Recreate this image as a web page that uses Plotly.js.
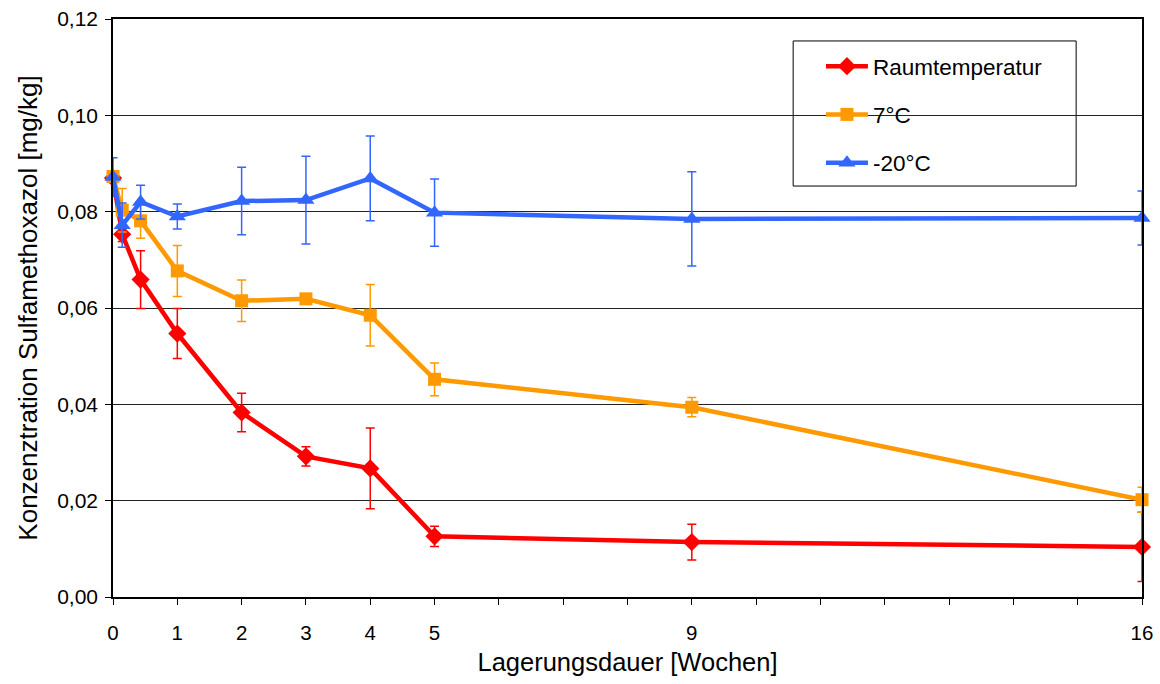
<!DOCTYPE html>
<html>
<head>
<meta charset="utf-8">
<script src="https://cdn.plot.ly/plotly-3.0.1.min.js"></script>
<style>html,body{margin:0;padding:0;background:#fff;}#chart{width:1160px;height:684px;}</style>
</head>
<body>
<div id="chart"></div>
<script>
// Storage time in weeks
const weeks = [0, 0.143, 0.429, 1, 2, 3, 4, 5, 9, 16];

// Raumtemperatur
const roomVals = [0.0870, 0.0753, 0.0659, 0.0547, 0.0383, 0.0292, 0.0267, 0.0126, 0.0114, 0.0104];
const roomErr  = [0.0010, 0.0015, 0.0060, 0.0052, 0.0040, 0.0020, 0.0084, 0.0021, 0.0037, 0.0072];

// 7°C
const fridgeVals = [0.0873, 0.0803, 0.0781, 0.0677, 0.0615, 0.0619, 0.0585, 0.0452, 0.0394, 0.0202];
const fridgeErr  = [0.0005, 0.0045, 0.0036, 0.0053, 0.0043, 0.0005, 0.0064, 0.0034, 0.0020, 0.0026];

// -20°C
const frozenVals = [0.0872, 0.0772, 0.0820, 0.0790, 0.0822, 0.0824, 0.0869, 0.0798, 0.0785, 0.0787];
const frozenErr  = [0.0040, 0.0046, 0.0035, 0.0026, 0.0070, 0.0091, 0.0088, 0.0070, 0.0098, 0.0056];

const seriesNames = ['Raumtemperatur', '7°C', '-20°C'];

const xTickVals = [0,1,2,3,4,5,6,7,8,9,10,11,12,13,14,15,16];
const xTickText = ['0','1','2','3','4','5','','','','9','','','','','','','16'];

const FONT = 'Liberation Sans, Arial, sans-serif';

function mk(name, x, y, err, color, symbol, msize, group) {
  return {
    type: 'scatter', mode: 'lines+markers', name: name, x: x, y: y,
    legendgroup: group,
    line: {color: color, width: 4.5},
    marker: {color: color, symbol: symbol, size: msize},
    error_y: {type: 'data', array: err, visible: true, color: color, thickness: 1.5, width: 4.5},
    cliponaxis: false
  };
}

const data = [
  mk(seriesNames[0], weeks, roomVals, roomErr, '#ff0000', 'diamond', 14, 'a'),
  mk(seriesNames[1], weeks, fridgeVals, fridgeErr, '#ff9900', 'square', 13, 'b'),
  mk(seriesNames[2], weeks, frozenVals, frozenErr, '#3366ff', 'triangle-up', 15, 'c')
];

const layout = {
  width: 1160, height: 684,
  margin: {l: 113, r: 18, t: 19, b: 87},
  paper_bgcolor: '#fff', plot_bgcolor: '#fff',
  separators: ',.',
  font: {family: FONT, color: '#000', size: 20},
  showlegend: true,
  legend: {
    x: 0.688, y: 0.955, xanchor: 'left', yanchor: 'top',
    bgcolor: 'rgba(0,0,0,0)', borderwidth: 0,
    font: {family: FONT, size: 22.5, color: '#000'},
    itemwidth: 42, tracegroupgap: 16, traceorder: 'grouped'
  },
  shapes: [{
    type: 'rect', xref: 'paper', yref: 'paper',
    x0: 0.661, x1: 0.936, y0: 0.711, y1: 0.962,
    line: {color: '#000', width: 1}, fillcolor: '#fff', layer: 'below'
  }],
  xaxis: {
    range: [0, 16], tickmode: 'array', tickvals: xTickVals, ticktext: xTickText,
    ticks: 'outside', ticklen: 6, tickwidth: 1, tickcolor: '#000',
    showline: true, linecolor: '#000', linewidth: 1.5, mirror: true,
    showgrid: false, zeroline: false,
    tickfont: {family: FONT, size: 20.5, color: '#000'},
    ticklabelstandoff: 11,
    title: {text: 'Lagerungsdauer [Wochen]', font: {family: FONT, size: 25.5, color: '#000'}, standoff: 10}
  },
  yaxis: {
    range: [0, 0.12], tickvals: [0, 0.02, 0.04, 0.06, 0.08, 0.10, 0.12], tickformat: '.2f',
    ticks: 'outside', ticklen: 6, tickwidth: 1, tickcolor: '#000',
    showline: true, linecolor: '#000', linewidth: 1.5, mirror: true,
    showgrid: true, gridcolor: '#222', gridwidth: 1, zeroline: false,
    tickfont: {family: FONT, size: 21, color: '#000'},
    ticklabelstandoff: 3,
    title: {text: 'Konzenztration Sulfamethoxazol [mg/kg]', font: {family: FONT, size: 26, color: '#000'}, standoff: 12}
  }
};

Plotly.newPlot('chart', data, layout, {displayModeBar: false, responsive: false});
</script>
</body>
</html>
